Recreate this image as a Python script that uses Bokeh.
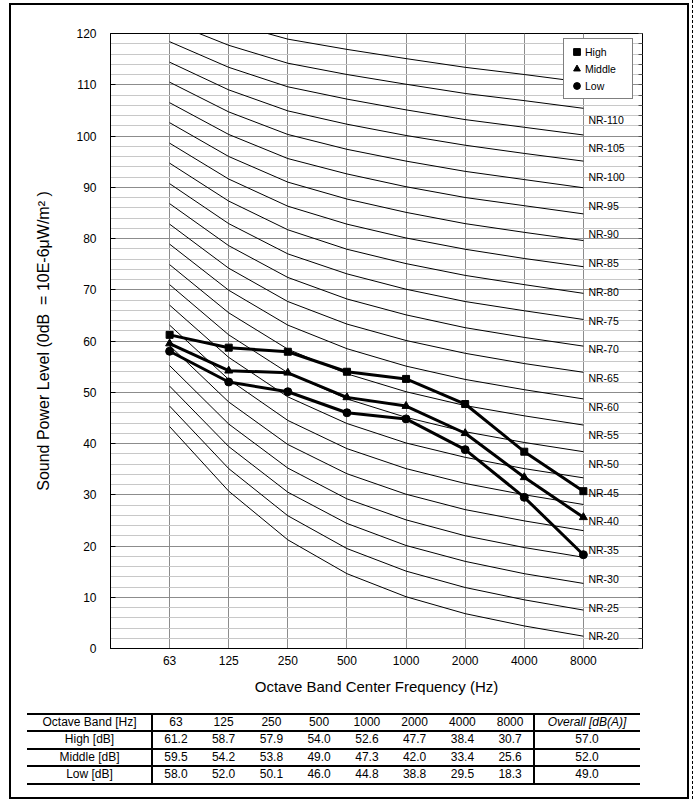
from bokeh.plotting import figure
from bokeh.models import (Range1d, LinearAxis, FixedTicker, SingleIntervalTicker,
                          Legend, LegendItem, CustomJSTickFormatter, ColumnDataSource, Div)
from bokeh.layouts import column
from bokeh.embed import file_html
from bokeh.resources import INLINE
from bokeh.core.properties import value

FONT = "Liberation Sans"

# ---------------- data ----------------
bands = ["63", "125", "250", "500", "1000", "2000", "4000", "8000"]
high = [61.2, 58.7, 57.9, 54.0, 52.6, 47.7, 38.4, 30.7]
middle = [59.5, 54.2, 53.8, 49.0, 47.3, 42.0, 33.4, 25.6]
low = [58.0, 52.0, 50.1, 46.0, 44.8, 38.8, 29.5, 18.3]
overall_high = 57.0
overall_middle = 52.0
overall_low = 49.0

nr_levels = [20, 25, 30, 35, 40, 45, 50, 55, 60, 65, 70, 75, 80, 85, 90, 95, 100, 105, 110, 115, 120, 125]
nr_63 = [43.3, 47.3, 51.2, 55.2, 59.1, 63.1, 67.0, 71.0, 74.9, 78.9, 82.8, 86.8, 90.7, 94.7, 98.6, 102.6, 106.5, 110.5, 114.4, 118.4, 122.3, 126.3]
nr_125 = [30.7, 35.1, 39.4, 43.8, 48.1, 52.5, 56.8, 61.2, 65.5, 69.9, 74.2, 78.6, 82.9, 87.3, 91.6, 96.0, 100.3, 104.7, 109.0, 113.4, 117.7, 122.1]
nr_250 = [21.2, 25.9, 30.5, 35.2, 39.8, 44.5, 49.1, 53.8, 58.4, 63.1, 67.7, 72.4, 77.0, 81.7, 86.3, 91.0, 95.6, 100.3, 104.9, 109.6, 114.2, 118.9]
nr_500 = [14.6, 19.5, 24.4, 29.2, 34.1, 39.0, 43.9, 48.7, 53.6, 58.5, 63.3, 68.2, 73.1, 77.9, 82.8, 87.7, 92.6, 97.4, 102.3, 107.2, 112.0, 116.9]
nr_1000 = [10.1, 15.1, 20.1, 25.1, 30.1, 35.1, 40.1, 45.1, 50.1, 55.1, 60.1, 65.1, 70.1, 75.1, 80.1, 85.1, 90.1, 95.1, 100.1, 105.1, 110.1, 115.1]
nr_2000 = [6.8, 11.9, 17.0, 22.0, 27.1, 32.2, 37.3, 42.3, 47.4, 52.5, 57.6, 62.6, 67.7, 72.8, 77.9, 82.9, 88.0, 93.1, 98.2, 103.2, 108.3, 113.4]
nr_4000 = [4.4, 9.5, 14.6, 19.7, 24.9, 30.0, 35.1, 40.2, 45.4, 50.5, 55.6, 60.7, 65.9, 71.0, 76.1, 81.2, 86.4, 91.5, 96.6, 101.7, 106.9, 112.0]
nr_8000 = [2.4, 7.5, 12.7, 17.8, 23.0, 28.1, 33.3, 38.4, 43.6, 48.7, 53.9, 59.0, 64.2, 69.3, 74.5, 79.6, 84.8, 89.9, 95.1, 100.2, 105.4, 110.5]
nr_labelled_max = 110

row_names = ["High [dB]", "Middle [dB]", "Low [dB]"]
header_first = "Octave Band [Hz]"
header_last = "Overall [dB(A)]"

# ---------------- chart ----------------
x_idx = list(range(len(bands)))
nr_table = [nr_63, nr_125, nr_250, nr_500, nr_1000, nr_2000, nr_4000, nr_8000]
nr_curves = [[col[i] for col in nr_table] for i in range(len(nr_levels))]

p = figure(width=676, height=695, x_range=Range1d(-1, len(bands)), y_range=Range1d(0, 120),
           output_backend="svg", toolbar_location=None,
           min_border_left=99, min_border_right=45, min_border_top=28, min_border_bottom=52,
           background_fill_color="white", border_fill_color="white",
           outline_line_color="black", outline_line_width=1)

xt = FixedTicker(ticks=x_idx)
yt = SingleIntervalTicker(interval=10, num_minor_ticks=5)
xa = p.xaxis[0]
xa.ticker = xt
xa.major_label_overrides = {i: b for i, b in enumerate(bands)}
xa.major_tick_in = 0
xa.major_tick_out = 0
xa.minor_tick_line_color = None
xa.axis_line_color = "black"
xa.major_label_standoff = 7
xa.major_label_text_font = FONT
xa.major_label_text_font_size = "12px"
xa.major_label_text_color = "black"
xa.axis_label = "Octave Band Center Frequency (Hz)"
xa.axis_label_text_font = FONT
xa.axis_label_text_font_size = "15px"
xa.axis_label_text_font_style = "normal"
xa.axis_label_text_color = "black"
xa.axis_label_standoff = 10

ya = p.yaxis[0]
ya.ticker = yt
ya.major_tick_in = 5
ya.major_tick_out = 0
ya.minor_tick_line_color = None
ya.axis_line_color = "black"
ya.major_tick_line_color = "black"
ya.major_label_standoff = 10
ya.major_label_text_font = FONT
ya.major_label_text_font_size = "12px"
ya.major_label_text_color = "black"
ya.axis_label = "Sound Power Level (0dB\u00a0\u00a0= 10E-6\u03bcW/m\u00b2\u00a0)"
ya.axis_label_text_font = FONT
ya.axis_label_text_font_size = "16px"
ya.axis_label_text_font_style = "normal"
ya.axis_label_text_color = "black"
ya.axis_label_standoff = 21

ra = LinearAxis(ticker=SingleIntervalTicker(interval=2, num_minor_ticks=0),
                formatter=CustomJSTickFormatter(code="return ''"),
                major_tick_in=4, major_tick_out=0, minor_tick_line_color=None,
                major_tick_line_color="#555555", axis_line_color="black",
                major_label_standoff=0)
p.add_layout(ra, "right")

p.xgrid.ticker = xt
p.xgrid.grid_line_color = "#8c8c8c"
p.xgrid.grid_line_width = 1
p.ygrid.ticker = yt
p.ygrid.grid_line_color = "#8c8c8c"
p.ygrid.minor_grid_line_color = "#c8c8c8"
p.ygrid.grid_line_width = 1

# NR curves
p.multi_line(xs=[x_idx] * len(nr_curves), ys=nr_curves, line_color="black", line_width=1)

# NR labels (evenly spaced column at the right of the 8000 Hz line)
label_names = ["NR-%d" % n for n in nr_levels if n <= nr_labelled_max]
label_step = 5.6
label_src = ColumnDataSource(dict(
    x=[x_idx[-1]] * len(label_names),
    y=[nr_8000[0] + i * label_step for i in range(len(label_names))],
    text=label_names))
p.text(x="x", y="y", text="text", source=label_src, x_offset=5,
       text_font=value(FONT), text_font_size="10.5px", text_color="black",
       text_align="left", text_baseline="middle")

# series
items = []
for vals, marker, size, name in [(high, "square", 7, "High"),
                                 (middle, "triangle", 8, "Middle"),
                                 (low, "circle", 8, "Low")]:
    p.line(x_idx, vals, line_color="black", line_width=3)
    r = p.scatter(x_idx, vals, marker=marker, size=size, fill_color="black", line_color="black")
    items.append(LegendItem(label=name, renderers=[r]))

legend = Legend(items=items, location=(453, 549),
                glyph_width=17, glyph_height=17, label_height=17, label_width=43,
                spacing=0, padding=4, label_standoff=0, margin=0,
                label_text_font=FONT, label_text_font_size="10.5px", label_text_color="black",
                border_line_color="black", border_line_width=1,
                background_fill_color="white", background_fill_alpha=1.0)
p.add_layout(legend)

# ---------------- table (HTML, built from the data arrays) ----------------
W_T, H_T = 676, 97
tbl_x0, tbl_x1 = 16, 629          # local px inside the table block
sep1, sep2 = 141, 523
tbl_top, row_h = 14, 17.4
col_w = (sep2 - sep1) / len(bands)
col_x = [sep1 + (i + 0.5) * col_w for i in range(len(bands))]
first_x = (tbl_x0 + sep1) / 2
last_x = (sep2 + tbl_x1) / 2
line_y = [tbl_top + k * row_h for k in range(5)]


def cell(xc, row, text, italic=False):
    y = tbl_top + row * row_h
    st = "font-style:italic;" if italic else ""
    return ('<div style="position:absolute;left:%.1fpx;top:%.1fpx;width:140px;height:%.1fpx;'
            'line-height:%.1fpx;text-align:center;white-space:nowrap;%s">%s</div>'
            % (xc - 70, y, row_h, row_h, st, text))


def hline(y):
    return ('<div style="position:absolute;left:%dpx;top:%.1fpx;width:%dpx;height:2px;background:#000;"></div>'
            % (tbl_x0, y - 1, tbl_x1 - tbl_x0))


def vline(x):
    return ('<div style="position:absolute;left:%dpx;top:%.1fpx;width:2px;height:%.1fpx;background:#000;"></div>'
            % (x - 1, line_y[0] - 1, line_y[-1] - line_y[0] + 2))


parts = [hline(y) for y in line_y] + [vline(sep1), vline(sep2)]
parts.append(cell(first_x, 0, header_first))
for i, b in enumerate(bands):
    parts.append(cell(col_x[i], 0, b))
parts.append(cell(last_x, 0, header_last, italic=True))
for r, (name, vals, ov) in enumerate([(row_names[0], high, overall_high),
                                      (row_names[1], middle, overall_middle),
                                      (row_names[2], low, overall_low)]):
    parts.append(cell(first_x, r + 1, name))
    for i, v in enumerate(vals):
        parts.append(cell(col_x[i], r + 1, "%.1f" % v))
    parts.append(cell(last_x, r + 1, "%.1f" % ov))

html = ('<div style="position:relative;width:%dpx;height:%dpx;font-family:\'Liberation Sans\',Arial,sans-serif;'
        'font-size:12px;color:#000;background:#fff;">%s</div>' % (W_T, H_T, "".join(parts)))
table = Div(text=html, width=W_T, height=H_T, margin=0)

inner = column(p, table, spacing=0, styles={"border": "2px solid black", "background": "white"})
layout = column(inner, spacing=0,
                styles={"padding-left": "9px", "padding-top": "3px", "padding-right": "3px",
                        "border-right": "1px dashed #000"})

open("out.html", "w").write(file_html(layout, INLINE))
